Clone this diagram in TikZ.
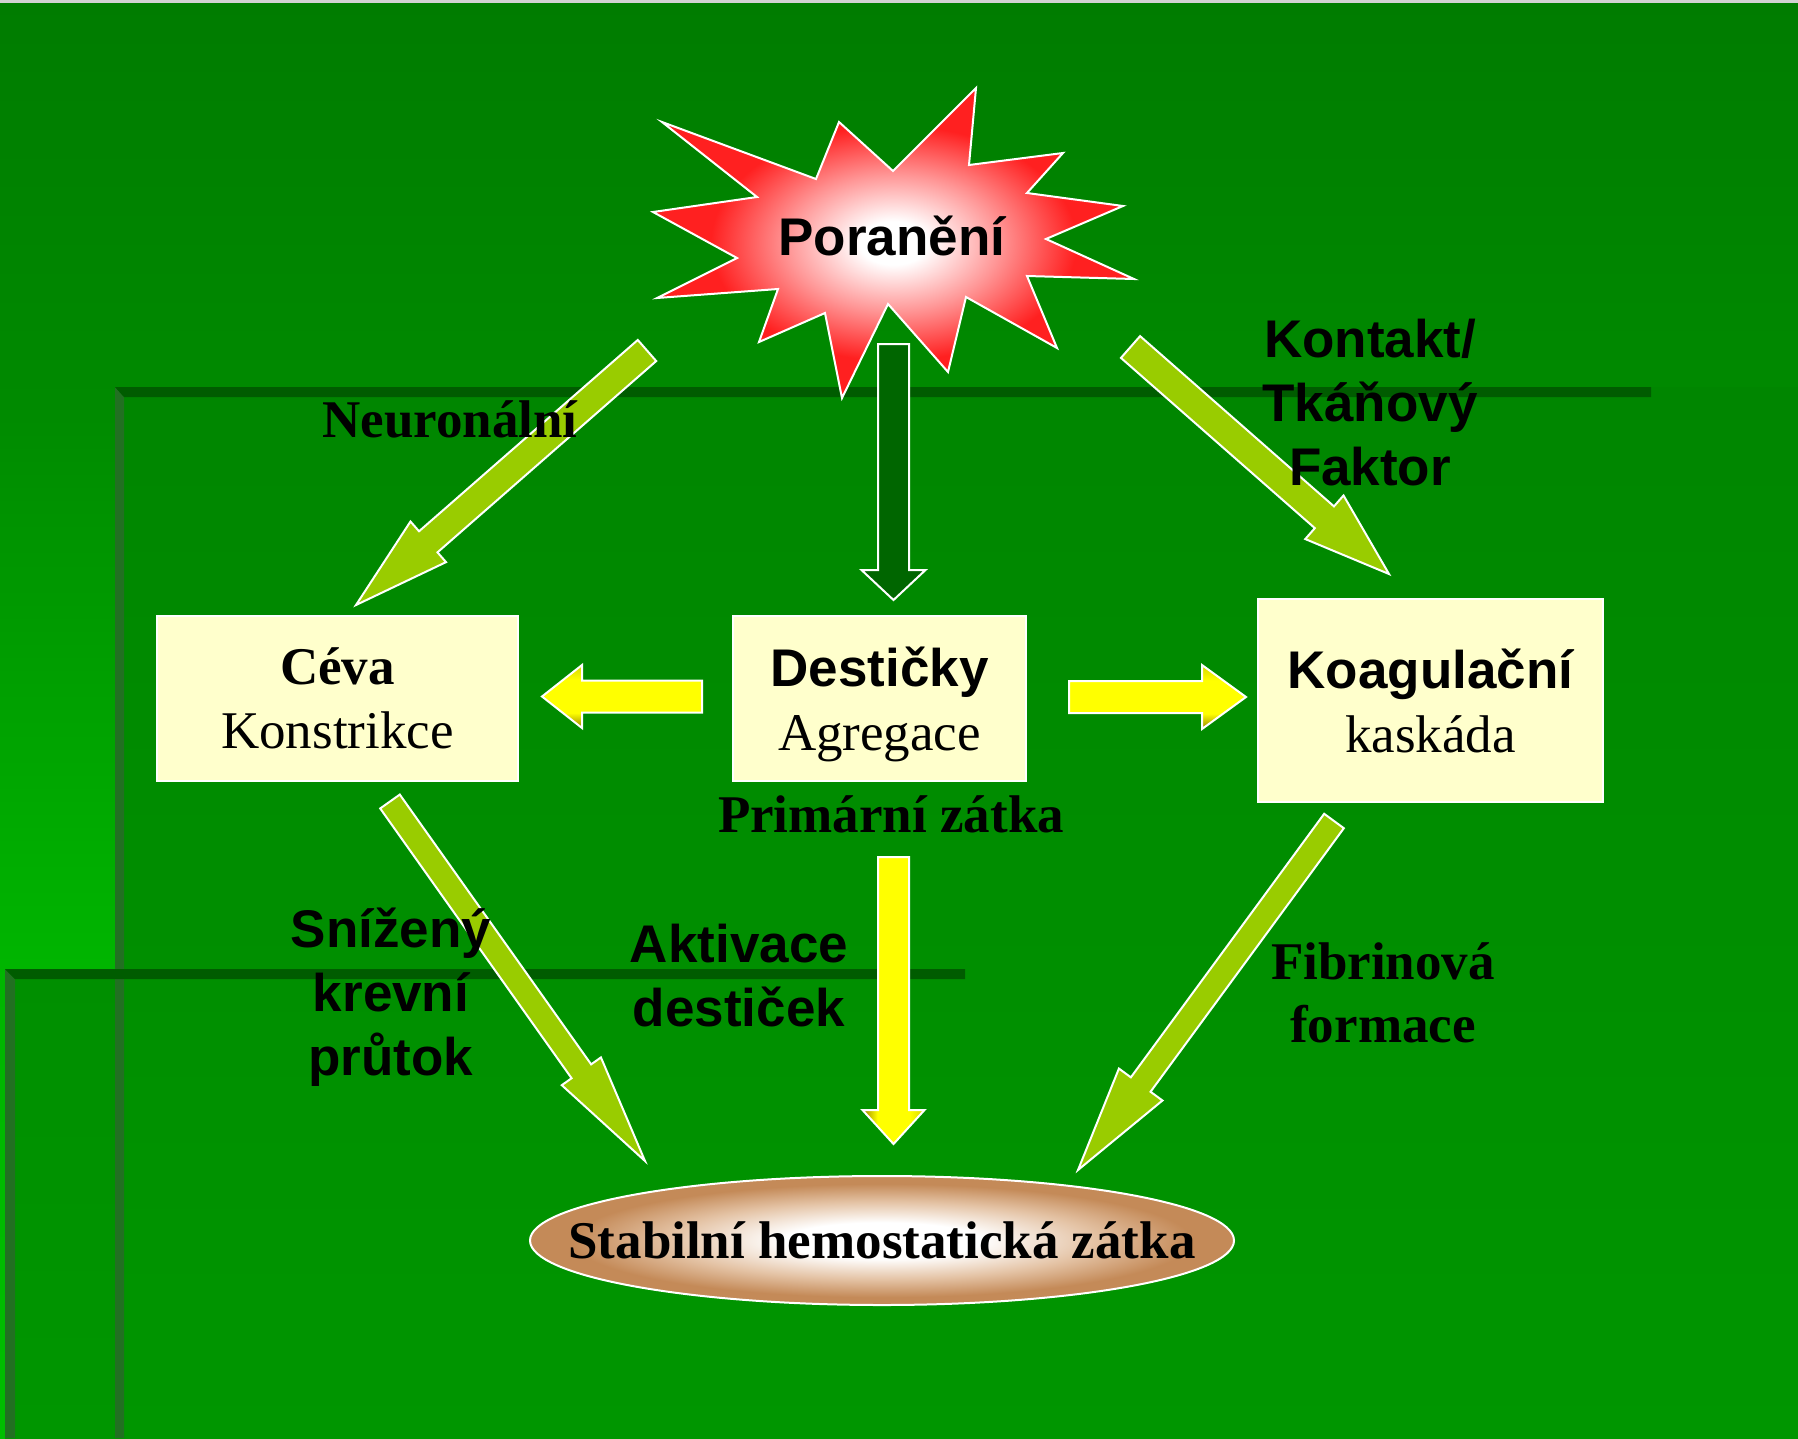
\documentclass[tikz,border=0pt]{standalone}
\usepackage{fontspec}
\setmainfont{Liberation Serif}
\setsansfont{Liberation Sans}
\usetikzlibrary{calc,shapes.geometric}

\definecolor{bgtop}{RGB}{0,124,0}
\definecolor{bgmid}{RGB}{0,138,0}
\definecolor{bglow}{RGB}{0,182,0}
\definecolor{bgbot}{RGB}{0,190,0}
\definecolor{paneltop}{RGB}{0,134,0}
\definecolor{panelmid}{RGB}{0,143,0}
\definecolor{panelbot}{RGB}{0,150,0}
\definecolor{barcol}{RGB}{0,92,0}
\definecolor{bevelcol}{RGB}{34,112,34}
\definecolor{arrowgreen}{RGB}{153,204,0}
\definecolor{darkarrow}{RGB}{0,102,0}
\definecolor{boxfill}{RGB}{255,255,204}
\definecolor{yedge}{RGB}{215,215,0}
\definecolor{ydeep}{RGB}{150,132,0}
\definecolor{starred}{RGB}{255,32,32}
\definecolor{starpink}{RGB}{255,150,150}
\definecolor{plugbrown}{RGB}{196,138,88}
\definecolor{pluglight}{RGB}{228,195,165}

\pgfdeclareverticalshading{bgshade}{100bp}{color(0bp)=(bgbot); color(25bp)=(bgbot); color(41bp)=(bglow); color(61bp)=(bgmid); color(75bp)=(bgtop); color(100bp)=(bgtop)}
\pgfdeclareverticalshading{yshadeh}{100bp}{color(0bp)=(ydeep); color(25bp)=(ydeep); color(37bp)=(yellow); color(63bp)=(yellow); color(75bp)=(yedge); color(100bp)=(yedge)}
\pgfdeclarehorizontalshading{yshadev}{100bp}{color(0bp)=(ydeep); color(25bp)=(ydeep); color(37bp)=(yellow); color(63bp)=(yellow); color(75bp)=(yedge); color(100bp)=(yedge)}
\pgfdeclareradialshading{starshade}{\pgfpoint{0bp}{0bp}}{color(0bp)=(white); color(3.5bp)=(white); color(11bp)=(starpink); color(19bp)=(starred); color(25bp)=(starred); color(50bp)=(starred)}
\pgfdeclareradialshading{plugshade}{\pgfpoint{0bp}{0bp}}{color(0bp)=(white); color(7bp)=(white); color(15bp)=(pluglight); color(22bp)=(plugbrown); color(25bp)=(plugbrown); color(50bp)=(plugbrown)}

% #1 style, #2 tail, #3 tip, #4 shaft half width, #5 head half width, #6 head length
\newcommand\blockarrow[6]{%
  \coordinate (ba-h) at ($(#3)!#6!(#2)$);
  \path[#1] ($(#2)!#4!90:(#3)$) -- ($(ba-h)!#4!90:(#3)$) -- ($(ba-h)!#5!90:(#3)$)
    -- (#3) -- ($(ba-h)!#5!-90:(#3)$) -- ($(ba-h)!#4!-90:(#3)$) -- ($(#2)!#4!-90:(#3)$) -- cycle;
}

\begin{document}
\begin{tikzpicture}[x=1pt,y=-1pt,
  gyarrow/.style={fill=arrowgreen, draw=white, line width=2pt, line join=miter},
  darrow/.style={fill=darkarrow, draw=white, line width=2pt, line join=miter},
  yarrowh/.style={draw=white, line width=2pt, line join=miter, shade, shading=yshadeh},
  yarrowv/.style={draw=white, line width=2pt, line join=miter, shade, shading=yshadev},
  box/.style={draw=white, line width=1.5pt, fill=boxfill, inner sep=0pt, align=center, font=\fontsize{53}{64}\selectfont},
  sanslbl/.style={font=\fontsize{53}{64}\selectfont\sffamily\bfseries, align=center, inner sep=0pt},
  seriflbl/.style={font=\fontsize{53}{63}\selectfont\bfseries, align=center, inner sep=0pt}]
\useasboundingbox (0,0) rectangle (1798,1438);

% background
\shade[shading=bgshade] (0,0) rectangle (1798,1438);
\fill[gray!35] (0,0) rectangle (1798,2.5);
\shade[top color=paneltop, bottom color=panelbot] (115,387) rectangle (1798,1438);
\shade[top color=panelmid, bottom color=panelbot] (5,969) rectangle (115,1438);
\fill[bevelcol] (115,387) -- (124,397) -- (124,1438) -- (115,1438) -- cycle;
\fill[barcol] (115,387) -- (1651,387) -- (1651,397) -- (124,397) -- cycle;
\fill[bevelcol] (5,969) -- (15,979) -- (15,1438) -- (5,1438) -- cycle;
\fill[barcol] (5,969) -- (965,969) -- (965,979) -- (15,979) -- cycle;

% starburst
\path[shade, shading=starshade, draw=white, line width=2pt, line join=miter]
  (976,88) -- (969,165) -- (1063,153) -- (1027,193) -- (1123,206) -- (1046,239)
  -- (1134,279) -- (1027,276) -- (1057,348) -- (966,297) -- (948,372) -- (888,304)
  -- (842,398) -- (825,313) -- (759,342) -- (778,289) -- (657,298) -- (737,258)
  -- (653,212) -- (757,197) -- (662,122) -- (816,179) -- (839,122) -- (893,171) -- cycle;
\node[sanslbl, anchor=base] (injury) at (892,255) {Poranění};

% boxes
\node[box, minimum width=361, minimum height=165] (ceva) at (337.5,698.5)
  {{\bfseries Céva}\\Konstrikce};
\node[box, minimum width=293, minimum height=165, text depth=0pt] (dest) at (879.5,698.5)
  {{\sffamily\bfseries Destičky}\\Agregace};
\node[box, minimum width=345, minimum height=203] (koag) at (1430.5,700.5)
  {{\sffamily\bfseries Koagulační}\\kaskáda};
\node[ellipse, shade, shading=plugshade, draw=white, line width=2pt, inner sep=0pt,
  minimum width=704, minimum height=129] (plug) at (882,1240.5) {};
\node[seriflbl] (plugtext) at (plug.center) {Stabilní hemostatická zátka};

% connector end points
\coordinate (neu-tail) at (647,350.5);   \coordinate (neu-tip) at (356,605);
\coordinate (kon-tail) at (1130.5,347);  \coordinate (kon-tip) at (1389,574);
\coordinate (dk-tail) at (893.5,344);    \coordinate (dk-tip) at (893.5,600);
\coordinate (yl-tail) at (702,696.5);    \coordinate (yl-tip) at (542,696.5);
\coordinate (yr-tail) at (1069,697);     \coordinate (yr-tip) at (1246,697);
\coordinate (yd-tail) at (893.5,857);    \coordinate (yd-tip) at (893.5,1144);
\coordinate (sn-tail) at (390,801.5);    \coordinate (sn-tip) at (645,1161);
\coordinate (fb-tail) at (1334,821);     \coordinate (fb-tip) at (1078,1170);

% arrows
\blockarrow{gyarrow}{neu-tail}{neu-tip}{14pt}{27pt}{96pt}
\blockarrow{gyarrow}{kon-tail}{kon-tip}{14.5pt}{29pt}{86pt}
\blockarrow{darrow}{dk-tail}{dk-tip}{15.5pt}{32pt}{30pt}
\blockarrow{yarrowh}{yl-tail}{yl-tip}{16pt}{31.5pt}{40pt}
\blockarrow{yarrowh}{yr-tail}{yr-tip}{16pt}{32pt}{44pt}
\blockarrow{yarrowv}{yd-tail}{yd-tip}{15.5pt}{31pt}{34pt}
\blockarrow{gyarrow}{sn-tail}{sn-tip}{12pt}{24pt}{110pt}
\blockarrow{gyarrow}{fb-tail}{fb-tip}{12.2pt}{27pt}{106pt}

% labels
\node[seriflbl, anchor=base] (neuro) at (450,437) {Neuronální};
\node[sanslbl] (kontakt) at (1370,402.7) {Kontakt/\\Tkáňový\\Faktor};
\node[seriflbl, anchor=base] (primar) at (891,832) {Primární zátka};
\node[sanslbl] (snizeny) at (391,997) {Snížený\\krevní\\průtok};
\node[sanslbl] (aktiv) at (739,976) {Aktivace\\destiček};
\node[seriflbl] (fibrin) at (1383,993) {Fibrinová\\formace};
\end{tikzpicture}
\end{document}
